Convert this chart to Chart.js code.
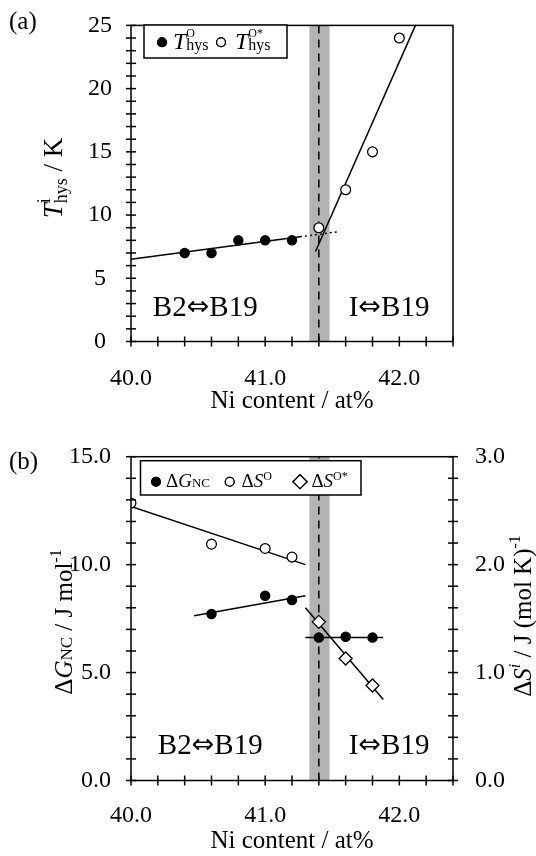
<!DOCTYPE html>
<html>
<head>
<meta charset="utf-8">
<script src="https://cdn.jsdelivr.net/npm/chart.js@4.4.1/dist/chart.umd.min.js"></script>
<style>
  html, body { margin: 0; padding: 0; background: #fff; }
  #wrap { position: relative; width: 536px; height: 856px; }
  canvas { position: absolute; left: 0; }
  #chartA { top: 0; }
  #chartB { top: 420px; }
</style>
</head>
<body>
<div id="wrap">
  <canvas id="chartA" width="536" height="420"></canvas>
  <canvas id="chartB" width="536" height="436"></canvas>
</div>
<script>
// ---- panel (a): T_hys vs Ni content ----
const hysOX = [40.4, 40.6, 40.8, 41.0, 41.2];
const hysOY = [7, 7, 8, 8, 8];
const hysStarX = [41.4, 41.6, 41.8, 42.0];
const hysStarY = [9, 12, 15, 24];
const fitA1X = [40.0, 41.26];
const fitA1Y = [6.5, 8.28];
const fitA1dotX = [41.26, 41.535];
const fitA1dotY = [8.28, 8.67];
const fitA2X = [41.375, 42.12];
const fitA2Y = [7.12, 25];

// ---- panel (b): dG_NC (left) and dS (right) ----
const dGX = [40.6, 41.0, 41.2, 41.4, 41.6, 41.8];
const dGY = [7.71, 8.56, 8.36, 6.62, 6.66, 6.62];
const dSX = [40.0, 40.6, 41.0, 41.2];
const dSY = [2.57, 2.19, 2.15, 2.07];
const dSStarX = [41.4, 41.6, 41.8];
const dSStarY = [1.47, 1.13, 0.88];
const fitG1X = [40.47, 41.30];
const fitG1Y = [7.63, 8.56];
const fitG2X = [41.30, 41.88];
const fitG2Y = [6.62, 6.62];
const fitS1X = [40.0, 41.30];
const fitS1Y = [2.54, 2.0];
const fitS2X = [41.30, 41.88];
const fitS2Y = [1.60, 0.75];

// boundary region
const bandLo = 41.33, bandHi = 41.48, boundaryX = 41.4;

const FONT = '"Liberation Serif", "Times New Roman", "DejaVu Serif", serif';
const ARROWFONT = '"DejaVu Sans", sans-serif';
const fnt = (size, italic) => (italic ? 'italic ' : '') + size + 'px ' + FONT;
Chart.defaults.font.family = FONT;
Chart.defaults.color = '#000';

const pts = (xs, ys) => xs.map((x, i) => ({x: x, y: ys[i]}));

function lineSet(xs, ys, axis, dash) {
  return {data: pts(xs, ys), yAxisID: axis, showLine: true, borderColor: '#000',
    borderWidth: 1.5, pointRadius: 0, borderDash: dash || [], fill: false};
}
function markSet(xs, ys, axis, style, filled, r) {
  return {data: pts(xs, ys), yAxisID: axis, showLine: false, pointStyle: style,
    pointRadius: r, pointBackgroundColor: filled ? '#000' : '#fff',
    pointBorderColor: '#000', pointBorderWidth: 1.3};
}

// text runs: {t, size, it, dy, hold, arrow}
function runFont(r) {
  return r.arrow ? r.size + 'px ' + ARROWFONT : fnt(r.size, r.it);
}
function runsWidth(ctx, runs) {
  let w = 0, held = 0;
  runs.forEach(r => {
    ctx.font = runFont(r);
    const rw = ctx.measureText(r.t).width;
    if (r.hold) { held = rw; } else { w += Math.max(rw, held); held = 0; }
  });
  return w;
}
function drawRuns(ctx, x, y, runs) {
  let held = 0;
  runs.forEach(r => {
    ctx.font = runFont(r);
    ctx.fillText(r.t, x, y + (r.dy || 0));
    const rw = ctx.measureText(r.t).width;
    if (r.hold) { held = rw; } else { x += Math.max(rw, held); held = 0; }
  });
}
function drawVertical(ctx, cx, cy, runs) {
  ctx.save();
  ctx.translate(cx, cy);
  ctx.rotate(-Math.PI / 2);
  ctx.textBaseline = 'alphabetic';
  ctx.textAlign = 'left';
  drawRuns(ctx, -runsWidth(ctx, runs) / 2, 0, runs);
  ctx.restore();
}
function phaseLabel(ctx, x, y, left) {
  drawRuns(ctx, x, y, [
    {t: left, size: 29},
    {t: '\u21D4', size: 27, arrow: true, dy: -1},
    {t: 'B19', size: 29}
  ]);
}
function marker(ctx, style, filled, x, y, r) {
  ctx.save();
  ctx.lineWidth = 1.3;
  ctx.strokeStyle = '#000';
  ctx.fillStyle = filled ? '#000' : '#fff';
  Chart.helpers.drawPoint(ctx, {pointStyle: style, radius: r, borderWidth: 1.3}, x, y);
  ctx.fill();
  ctx.stroke();
  ctx.restore();
}

const bandPlugin = {
  id: 'band',
  beforeDatasetsDraw(chart) {
    const {ctx, chartArea: a, scales} = chart;
    const x0 = scales.x.getPixelForValue(bandLo), x1 = scales.x.getPixelForValue(bandHi);
    ctx.save();
    ctx.fillStyle = '#b3b3b3';
    ctx.fillRect(x0, a.top, x1 - x0, a.bottom - a.top);
    ctx.restore();
  }
};

function tickMarks(ctx, scale, horizontal, at) {
  scale.ticks.forEach(t => {
    const p = scale.getPixelForValue(t.value);
    ctx.beginPath();
    if (horizontal) { ctx.moveTo(p, at - 5); ctx.lineTo(p, at + 5); }
    else { ctx.moveTo(at - 5, p); ctx.lineTo(at + 5, p); }
    ctx.stroke();
  });
}

const framePlugin = {
  id: 'frame',
  afterDatasetsDraw(chart) {
    const {ctx, chartArea: a, scales} = chart;
    ctx.save();
    ctx.strokeStyle = '#000';
    ctx.lineWidth = 1.5;
    ctx.strokeRect(a.left, a.top, a.right - a.left, a.bottom - a.top);
    tickMarks(ctx, scales.x, true, a.bottom);
    tickMarks(ctx, scales.y, false, a.left);
    if (scales.y2) tickMarks(ctx, scales.y2, false, a.right);
    ctx.restore();
  }
};

function xScale(labelPad, titlePadBottom, h) {
  return {
    type: 'linear', position: 'bottom', min: 40, max: 42.4,
    grid: {display: false}, border: {display: false},
    ticks: {stepSize: 0.2, autoSkip: false, maxRotation: 0, padding: labelPad,
      font: {size: 24},
      callback: v => Math.abs(v - Math.round(v)) < 1e-6 ? v.toFixed(1) : ''},
    title: {display: true, text: 'Ni content / at%', font: {size: 25},
      padding: {top: 0, bottom: titlePadBottom}},
    afterFit: s => { s.height = h; }
  };
}

const textA = {
  id: 'textA',
  afterDraw(chart) {
    const {ctx, scales} = chart;
    ctx.save();
    ctx.fillStyle = '#000';
    ctx.textBaseline = 'alphabetic';
    ctx.font = fnt(25);
    ctx.fillText('(a)', 9, 29);
    phaseLabel(ctx, scales.x.getPixelForValue(40.163), scales.y.getPixelForValue(2.05), 'B2');
    phaseLabel(ctx, scales.x.getPixelForValue(41.623), scales.y.getPixelForValue(2.05), 'I');
    // y title
    drawVertical(ctx, 62, 178, [
      {t: 'T', size: 27, it: true},
      {t: 'i', size: 18, dy: -12, hold: true},
      {t: 'hys', size: 18, dy: 5},
      {t: ' / K', size: 27}
    ]);
    // legend
    ctx.fillStyle = '#fff';
    ctx.fillRect(144, 25, 143, 33);
    ctx.strokeStyle = '#000';
    ctx.lineWidth = 1.5;
    ctx.strokeRect(144, 25, 143, 33);
    marker(ctx, 'circle', true, 162, 42.3, 4.4);
    ctx.fillStyle = '#000';
    drawRuns(ctx, 173, 49, [
      {t: 'T', size: 24, it: true},
      {t: 'O', size: 12, dy: -12.3, hold: true},
      {t: 'hys', size: 16, dy: 0.5}
    ]);
    marker(ctx, 'circle', false, 221, 42.3, 4.4);
    ctx.fillStyle = '#000';
    drawRuns(ctx, 235, 49, [
      {t: 'T', size: 24, it: true},
      {t: 'O*', size: 12, dy: -12.3, hold: true},
      {t: 'hys', size: 16, dy: 0.5}
    ]);
    ctx.restore();
  }
};

const textB = {
  id: 'textB',
  afterDraw(chart) {
    const {ctx, scales} = chart;
    ctx.save();
    ctx.fillStyle = '#000';
    ctx.textBaseline = 'alphabetic';
    ctx.font = fnt(25);
    ctx.fillText('(b)', 9, 49);
    phaseLabel(ctx, scales.x.getPixelForValue(40.2), scales.y.getPixelForValue(1.23), 'B2');
    phaseLabel(ctx, scales.x.getPixelForValue(41.623), scales.y.getPixelForValue(1.23), 'I');
    // left title
    drawVertical(ctx, 72, 202, [
      {t: '\u0394', size: 25},
      {t: 'G', size: 25, it: true},
      {t: 'NC', size: 17},
      {t: ' / J mol', size: 25},
      {t: '-1', size: 16, dy: -11}
    ]);
    // right title
    drawVertical(ctx, 531, 196, [
      {t: '\u0394', size: 25},
      {t: 'S', size: 25, it: true},
      {t: 'i', size: 16, it: true, dy: -11},
      {t: ' / J (mol K)', size: 25},
      {t: '-1', size: 16, dy: -11}
    ]);
    // legend
    ctx.fillStyle = '#fff';
    ctx.fillRect(140.5, 40.7, 220.5, 34.3);
    ctx.strokeStyle = '#000';
    ctx.lineWidth = 1.5;
    ctx.strokeRect(140.5, 40.7, 220.5, 34.3);
    marker(ctx, 'circle', true, 156, 61.7, 4.4);
    ctx.fillStyle = '#000';
    drawRuns(ctx, 166, 66.7, [
      {t: '\u0394', size: 19},
      {t: 'G', size: 19, it: true},
      {t: 'NC', size: 13}
    ]);
    marker(ctx, 'circle', false, 229.7, 61.7, 4.4);
    ctx.fillStyle = '#000';
    drawRuns(ctx, 241.6, 66.7, [
      {t: '\u0394', size: 19},
      {t: 'S', size: 19, it: true},
      {t: 'O', size: 12, dy: -7}
    ]);
    marker(ctx, 'rectRot', false, 300, 61.7, 7);
    ctx.fillStyle = '#000';
    drawRuns(ctx, 311.4, 66.7, [
      {t: '\u0394', size: 19},
      {t: 'S', size: 19, it: true},
      {t: 'O*', size: 12, dy: -7}
    ]);
    ctx.restore();
  }
};

const baseOpts = {
  responsive: false, animation: false,
  plugins: {legend: {display: false}, tooltip: {enabled: false}}
};

new Chart(document.getElementById('chartA'), {
  type: 'scatter',
  data: {datasets: [
    markSet(hysOX, hysOY, 'y', 'circle', true, 4.6),
    markSet(hysStarX, hysStarY, 'y', 'circle', false, 4.9),
    lineSet(fitA1X, fitA1Y, 'y'),
    lineSet(fitA1dotX, fitA1dotY, 'y', [2, 3]),
    lineSet(fitA2X, fitA2Y, 'y'),
    lineSet([boundaryX, boundaryX], [0, 25], 'y', [8, 6])
  ]},
  options: Object.assign({}, baseOpts, {
    layout: {padding: {top: 18, right: 83, left: 0, bottom: 0}},
    scales: {
      x: xScale(15, 4, 78.5),
      y: {
        type: 'linear', min: 0, max: 25,
        grid: {display: false}, border: {display: false},
        ticks: {stepSize: 1, autoSkip: false, padding: 11, crossAlign: 'center',
          font: {size: 24}, callback: v => v % 5 === 0 ? String(v) : ''},
        afterFit: s => { s.width = 131; }
      }
    }
  }),
  plugins: [bandPlugin, framePlugin, textA]
});

new Chart(document.getElementById('chartB'), {
  type: 'scatter',
  data: {datasets: [
    markSet(dGX, dGY, 'y', 'circle', true, 4.6),
    markSet(dSX, dSY, 'y2', 'circle', false, 4.9),
    markSet(dSStarX, dSStarY, 'y2', 'rectRot', false, 6.5),
    lineSet(fitG1X, fitG1Y, 'y'),
    lineSet(fitG2X, fitG2Y, 'y'),
    lineSet(fitS1X, fitS1Y, 'y2'),
    lineSet(fitS2X, fitS2Y, 'y2'),
    lineSet([boundaryX, boundaryX], [0, 15], 'y', [8, 6])
  ]},
  options: Object.assign({}, baseOpts, {
    layout: {padding: {top: 36.7, right: 0, left: 0, bottom: 0}},
    scales: {
      x: xScale(13, 0, 75.5),
      y: {
        type: 'linear', position: 'left', min: 0, max: 15,
        grid: {display: false}, border: {display: false},
        ticks: {stepSize: 1, autoSkip: false, padding: 12,
          font: {size: 24}, callback: v => v % 5 === 0 ? v.toFixed(1) : ''},
        afterFit: s => { s.width = 131; }
      },
      y2: {
        type: 'linear', position: 'right', min: 0, max: 3,
        grid: {display: false}, border: {display: false},
        ticks: {stepSize: 0.2, autoSkip: false, padding: 14,
          font: {size: 24},
          callback: v => Math.abs(v - Math.round(v)) < 1e-6 ? v.toFixed(1) : ''},
        afterFit: s => { s.width = 83; }
      }
    }
  }),
  plugins: [bandPlugin, framePlugin, textB]
});
</script>
</body>
</html>
